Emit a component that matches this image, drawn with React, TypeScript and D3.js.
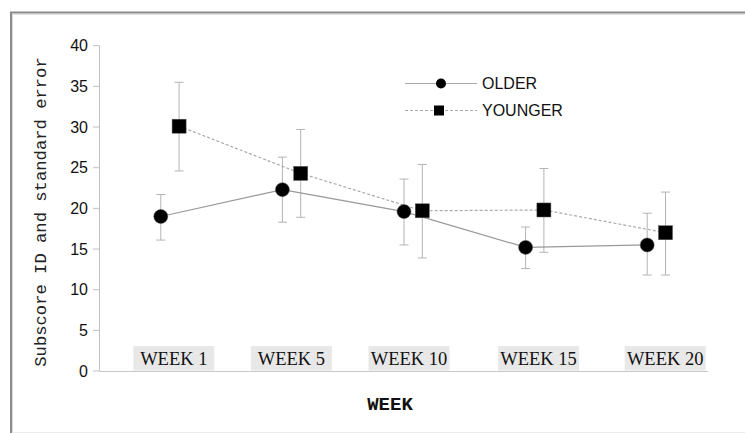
import React from "react";
import * as d3 from "d3";

const weeks = ["WEEK 1", "WEEK 5", "WEEK 10", "WEEK 15", "WEEK 20"];
const olderMean = [19.0, 22.3, 19.6, 15.2, 15.5];
const olderLow = [16.1, 18.3, 15.5, 12.6, 11.8];
const olderHigh = [21.7, 26.3, 23.6, 17.7, 19.4];
const youngerMean = [30.1, 24.3, 19.7, 19.8, 17.0];
const youngerLow = [24.6, 18.9, 13.9, 14.6, 11.8];
const youngerHigh = [35.5, 29.7, 25.4, 24.9, 22.0];
const yTicks = [0, 5, 10, 15, 20, 25, 30, 35, 40];
const seriesNames = ["OLDER", "YOUNGER"];

// layout constants
const W = 745;
const H = 433;
const M = { left: 100, right: 708, top: 45.7, bottom: 371 };
const youngerShift = 18.3;
const labelShift = [13, 9, 5, 13, 18];

export default function App() {
  const x = d3
    .scalePoint<string>()
    .domain(weeks)
    .range([M.left, M.right])
    .padding(0.5);
  const y = d3.scaleLinear().domain([0, 40]).range([M.bottom, M.top]);

  const older = weeks.map((w, i) => ({
    x: x(w)!,
    m: olderMean[i],
    lo: olderLow[i],
    hi: olderHigh[i],
  }));
  const younger = weeks.map((w, i) => ({
    x: x(w)! + youngerShift,
    m: youngerMean[i],
    lo: youngerLow[i],
    hi: youngerHigh[i],
  }));

  const line = d3
    .line<{ x: number; m: number }>()
    .x((d) => d.x)
    .y((d) => y(d.m));

  const errColor = "#b4b4b4";
  const errBars = (pts: typeof older, key: string) =>
    pts.map((p, i) => (
      <g key={key + i} stroke={errColor} strokeWidth={1}>
        <line x1={p.x} x2={p.x} y1={y(p.lo)} y2={y(p.hi)} />
        <line x1={p.x - 4.5} x2={p.x + 4.5} y1={y(p.lo)} y2={y(p.lo)} />
        <line x1={p.x - 4.5} x2={p.x + 4.5} y1={y(p.hi)} y2={y(p.hi)} />
      </g>
    ));

  return (
    <svg
      width={W}
      height={H}
      style={{ position: "absolute", left: 0, top: 0, background: "#fff" }}
    >
      {/* frame */}
      <line x1={11} x2={11} y1={12} y2={H} stroke="#8a8a8a" strokeWidth={2} />
      <line x1={12.5} x2={12.5} y1={14} y2={H} stroke="#dcdcdc" strokeWidth={1} />
      <line x1={10} x2={W} y1={12.5} y2={12.5} stroke="#8a8a8a" strokeWidth={2} />
      <line x1={12} x2={W} y1={14.5} y2={14.5} stroke="#e0e0e0" strokeWidth={1} />
      <line x1={12} x2={W} y1={432.5} y2={432.5} stroke="#ececec" strokeWidth={1} />

      {/* y axis */}
      <line x1={99.5} x2={99.5} y1={y(40)} y2={y(0)} stroke="#c0c0c0" />
      {yTicks.map((t) => (
        <g key={t}>
          <line x1={93} x2={99.5} y1={y(t)} y2={y(t)} stroke="#c0c0c0" />
          <text
            x={88}
            y={y(t)}
            dy="0.36em"
            textAnchor="end"
            fontFamily="Liberation Sans, Arial, sans-serif"
            fontSize={16}
            fill="#111"
          >
            {t}
          </text>
        </g>
      ))}
      {/* x axis */}
      <line x1={99.5} x2={M.right} y1={y(0) + 0.5} y2={y(0) + 0.5} stroke="#c8c8c8" />

      {/* week label boxes */}
      {weeks.map((w, i) => {
        const cx = x(w)! + labelShift[i];
        return (
          <g key={w}>
            <rect x={cx - 40.5} y={346} width={81} height={24.5} fill="#e8e8e8" />
            <text
              x={cx}
              y={365}
              textAnchor="middle"
              fontFamily="Liberation Serif, Times New Roman, serif"
              fontSize={18.5}
              fill="#111"
            >
              {w}
            </text>
          </g>
        );
      })}

      {/* axis titles */}
      <text
        x={390}
        y={410}
        textAnchor="middle"
        fontFamily="Liberation Mono, Courier New, monospace"
        fontWeight="bold"
        fontSize={19}
        fill="#111"
      >
        WEEK
      </text>
      <text
        transform={`translate(46, 212) rotate(-90)`}
        textAnchor="middle"
        fontFamily="Liberation Mono, Courier New, monospace"
        fontSize={17.2}
        fill="#222"
      >
        Subscore ID and standard error
      </text>

      {/* error bars */}
      {errBars(older, "o")}
      {errBars(younger, "y")}

      {/* lines */}
      <path d={line(older)!} fill="none" stroke="#999" strokeWidth={1.2} />
      <path
        d={line(younger)!}
        fill="none"
        stroke="#aaa"
        strokeWidth={1.2}
        strokeDasharray="3,2"
      />

      {/* markers */}
      {older.map((p, i) => (
        <circle key={"oc" + i} cx={p.x} cy={y(p.m)} r={7} fill="#000" stroke="#555" strokeWidth={0.5} />
      ))}
      {younger.map((p, i) => (
        <rect
          key={"ys" + i}
          x={p.x - 7}
          y={y(p.m) - 7}
          width={14}
          height={14}
          fill="#000"
          stroke="#555"
          strokeWidth={0.5}
        />
      ))}

      {/* legend */}
      <g fontFamily="Liberation Sans, Arial, sans-serif" fontSize={16} fill="#111">
        <line x1={405} x2={477} y1={83.5} y2={83.5} stroke="#aaa" strokeWidth={1} />
        <circle cx={441} cy={83.5} r={5} fill="#000" />
        <text x={482} y={83.5} dy="0.36em">
          {seriesNames[0]}
        </text>
        <line x1={405} x2={477} y1={110.5} y2={110.5} stroke="#aaa" strokeWidth={1} strokeDasharray="3,2" />
        <rect x={434} y={105.5} width={10} height={10} fill="#000" />
        <text x={482} y={110.5} dy="0.36em">
          {seriesNames[1]}
        </text>
      </g>
    </svg>
  );
}
